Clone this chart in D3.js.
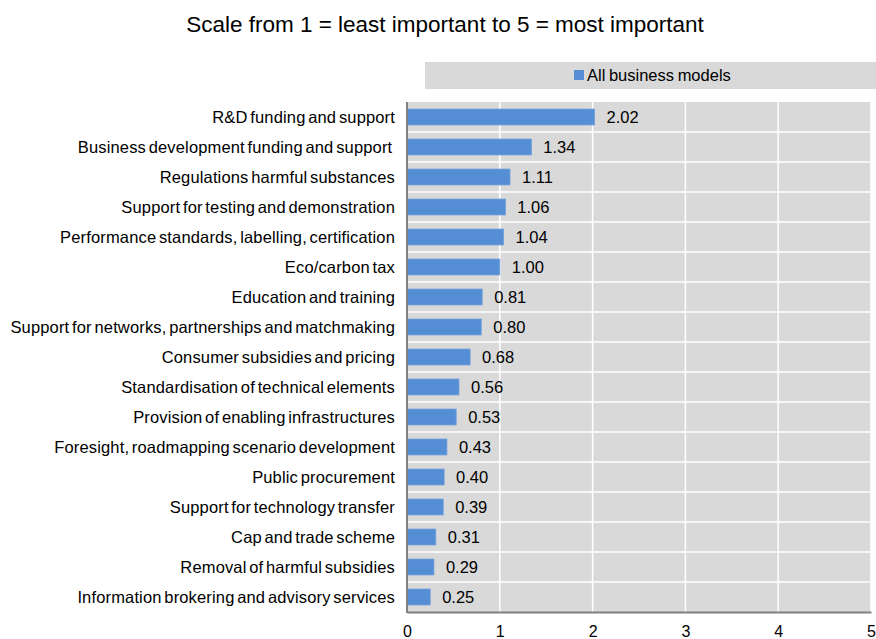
<!DOCTYPE html>
<html>
<head>
<meta charset="utf-8">
<script src="https://cdn.jsdelivr.net/npm/d3@7"></script>
<style>
  body { margin: 0; background: #fff; }
  svg { display: block; font-family: "Liberation Sans", Arial, sans-serif; }
</style>
</head>
<body>
<svg id="chart" width="876" height="639"></svg>
<script>
const categories = [
  "R&D funding and support",
  "Business development funding and support ",
  "Regulations harmful substances",
  "Support for testing and demonstration",
  "Performance standards, labelling, certification",
  "Eco/carbon tax",
  "Education and training",
  "Support for networks, partnerships and matchmaking",
  "Consumer subsidies and pricing",
  "Standardisation of technical elements",
  "Provision of enabling infrastructures",
  "Foresight, roadmapping scenario development",
  "Public procurement",
  "Support for technology transfer",
  "Cap and trade scheme",
  "Removal of harmful subsidies",
  "Information brokering and advisory services"
];
const values = [2.02, 1.34, 1.11, 1.06, 1.04, 1.00, 0.81, 0.80, 0.68, 0.56, 0.53, 0.43, 0.40, 0.39, 0.31, 0.29, 0.25];
const xTicks = [0, 1, 2, 3, 4, 5];
const seriesName = "All business models";
const title = "Scale from 1 = least important to 5 = most important";

const svg = d3.select("#chart");
const plot = { left: 407, right: 871, top: 102, bottom: 612 };

const x = d3.scaleLinear().domain([0, 5]).range([plot.left, plot.right]);
const y = d3.scaleBand().domain(categories).range([plot.top, plot.bottom]).paddingInner(0.47).paddingOuter(0.235);
const band = d3.scaleBand().domain(categories).range([plot.top, plot.bottom]);

// title
svg.append("text")
  .attr("x", 445).attr("y", 31.5)
  .attr("text-anchor", "middle")
  .attr("font-size", 22.5)
  .attr("fill", "#000")
  .text(title);

// legend strip
svg.append("rect")
  .attr("x", 425).attr("y", 62).attr("width", 451).attr("height", 27)
  .attr("fill", "#d9d9d9");
svg.append("rect")
  .attr("x", 574).attr("y", 70).attr("width", 10).attr("height", 10)
  .attr("fill", "#558ed5");
svg.append("text")
  .attr("x", 587).attr("y", 81)
  .attr("font-size", 16.5)
  .attr("word-spacing", -1)
  .text(seriesName);

// plot background
svg.append("rect")
  .attr("x", plot.left).attr("y", plot.top)
  .attr("width", plot.right - plot.left).attr("height", plot.bottom - plot.top)
  .attr("fill", "#d9d9d9");

// vertical grid
svg.append("g").selectAll("line")
  .data(xTicks.slice(1))
  .join("line")
  .attr("x1", d => x(d)).attr("x2", d => x(d))
  .attr("y1", plot.top).attr("y2", plot.bottom)
  .attr("stroke", "#fff").attr("stroke-width", 1.5);

// horizontal separators between categories
svg.append("g").selectAll("line")
  .data(categories.slice(1))
  .join("line")
  .attr("x1", plot.left).attr("x2", plot.right)
  .attr("y1", d => band(d)).attr("y2", d => band(d))
  .attr("stroke", "#fff").attr("stroke-width", 1.5);

// bars
svg.append("g").selectAll("rect")
  .data(values)
  .join("rect")
  .attr("x", x(0))
  .attr("y", (d, i) => y(categories[i]))
  .attr("width", d => x(d) - x(0))
  .attr("height", y.bandwidth())
  .attr("fill", "#558ed5")
  .attr("stroke", "#6e9fdc").attr("stroke-width", 0.8);

// value labels
svg.append("g").selectAll("text")
  .data(values)
  .join("text")
  .attr("x", d => x(d) + 12)
  .attr("y", (d, i) => y(categories[i]) + y.bandwidth() / 2 + 6)
  .attr("font-size", 16.5)
  .attr("fill", "#000")
  .text(d => d.toFixed(2));

// category labels
svg.append("g").selectAll("text")
  .data(categories)
  .join("text")
  .attr("x", 395)
  .attr("y", d => y(d) + y.bandwidth() / 2 + 5.5)
  .attr("text-anchor", "end")
  .attr("font-size", 16.5)
  .attr("letter-spacing", 0.15)
  .attr("word-spacing", -2)
  .attr("xml:space", "preserve")
  .style("white-space", "pre")
  .text(d => d);

// left axis line
svg.append("line")
  .attr("x1", plot.left).attr("x2", plot.left)
  .attr("y1", plot.top).attr("y2", plot.bottom + 1)
  .attr("stroke", "#808080").attr("stroke-width", 2);

// bottom axis
const xAxis = d3.axisBottom(x).tickValues(xTicks).tickSize(0).tickPadding(13.5).tickFormat(d3.format("d"));
const gx = svg.append("g").attr("transform", `translate(0,${plot.bottom})`).call(xAxis);
gx.select(".domain").attr("stroke", "#808080").attr("stroke-width", 2);
gx.selectAll("text").attr("font-size", 16).attr("fill", "#000").attr("font-family", "Liberation Sans, Arial, sans-serif");
</script>
</body>
</html>
